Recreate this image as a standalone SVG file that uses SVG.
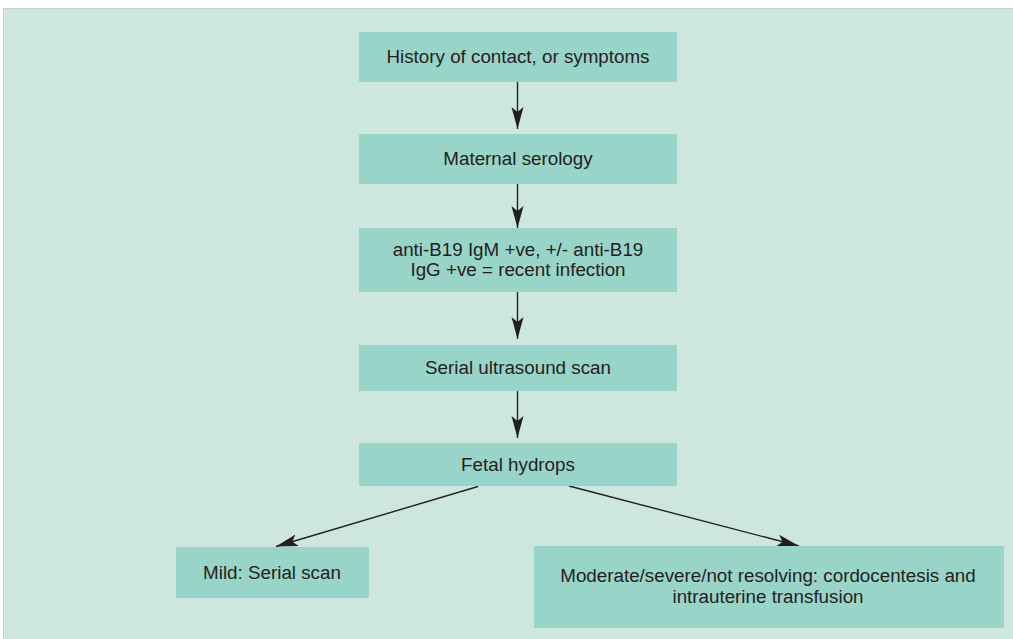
<svg xmlns="http://www.w3.org/2000/svg" width="1013" height="639" viewBox="0 0 1013 639">
<style>
.box{fill:#98d4c8}
.t{font-family:"Liberation Sans",Arial,sans-serif;font-size:18.8px;fill:#231f20;text-anchor:middle}
.c{stroke:#231f20;stroke-width:1.4;fill:none}
</style>
<defs>
<marker id="ah" markerUnits="userSpaceOnUse" markerWidth="24" markerHeight="16" viewBox="0 0 24 16" refX="22" refY="8" orient="auto">
<path d="M0,2 L22,8 L0,14 L5,8 Z" fill="#231f20"/>
</marker>
</defs>
<rect x="0" y="0" width="1013" height="639" fill="#ffffff"/>
<rect x="3.5" y="8.5" width="1012" height="640" fill="#cde7df" stroke="#c8cfcc" stroke-width="1"/>
<g id="connectors">
<line class="c" x1="517.5" y1="82" x2="517.5" y2="129" marker-end="url(#ah)"/>
<line class="c" x1="517.5" y1="184" x2="517.5" y2="228" marker-end="url(#ah)"/>
<line class="c" x1="517.5" y1="292" x2="517.5" y2="339" marker-end="url(#ah)"/>
<line class="c" x1="517.5" y1="391" x2="517.5" y2="438" marker-end="url(#ah)"/>
<line class="c" x1="478" y1="486.5" x2="276" y2="546.5" marker-end="url(#ah)"/>
<line class="c" x1="569" y1="486" x2="799" y2="546" marker-end="url(#ah)"/>
</g>
<g id="n1"><rect class="box" x="359" y="32" width="318" height="50"/><text class="t" x="518" y="63">History of contact, or symptoms</text></g>
<g id="n2"><rect class="box" x="359" y="134" width="318" height="50"/><text class="t" x="518" y="165">Maternal serology</text></g>
<g id="n3"><rect class="box" x="359" y="228" width="318" height="64"/><text class="t" x="518" y="256">anti-B19 IgM +ve, +/- anti-B19</text><text class="t" x="518" y="276">IgG +ve = recent infection</text></g>
<g id="n4"><rect class="box" x="359" y="345" width="318" height="46"/><text class="t" x="518" y="374">Serial ultrasound scan</text></g>
<g id="n5"><rect class="box" x="359" y="443" width="318" height="43"/><text class="t" x="518" y="471">Fetal hydrops</text></g>
<g id="n6"><rect class="box" x="176" y="547" width="193" height="51"/><text class="t" x="272" y="579">Mild: Serial scan</text></g>
<g id="n7"><rect class="box" x="534" y="546" width="470" height="82"/><text class="t" x="768" y="582">Moderate/severe/not resolving: cordocentesis and</text><text class="t" x="768" y="603">intrauterine transfusion</text></g>
</svg>
